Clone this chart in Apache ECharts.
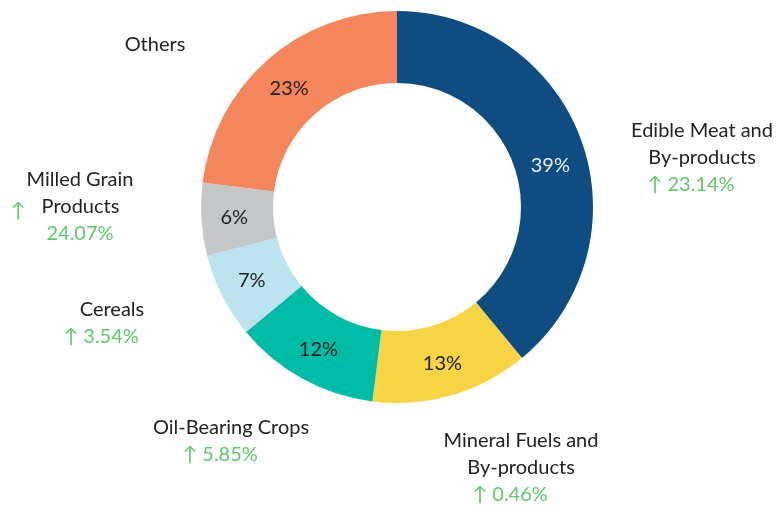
<!DOCTYPE html>
<html>
<head>
<meta charset="utf-8">
<script src="https://cdn.jsdelivr.net/npm/echarts@6/dist/echarts.min.js"></script>
<style>html,body{margin:0;padding:0;background:#fff}#c{width:778px;height:507px}</style>
</head>
<body>
<div id="c"></div>
<script>
const categories = ['Edible Meat and\nBy-products', 'Mineral Fuels and\nBy-products', 'Oil-Bearing Crops', 'Cereals', 'Milled Grain Products', 'Others'];
const shares = [39, 13, 12, 7, 6, 23];
const growth = ['23.14%', '0.46%', '5.85%', '3.54%', '24.07%', null];

const colors = ['#0e4c82', '#f7d443', '#00bca6', '#bee3f0', '#c4c8cb', '#f3865c'];
const labelPos = [[702, 158], [521, 468], [231, 441], [112, 323], [80, 207], [155, 45]];
const FONT = 'Lato';
const FS = 20;

const chart = echarts.init(document.getElementById('c'));
const data = categories.map((c, i) => ({
  name: c, value: shares[i], itemStyle: { color: colors[i] },
  label: i === 0 ? { color: '#e9eef5' } : undefined
}));

function outerLabel(p) {
  const i = p.dataIndex;
  if (i === 4) {
    return '{n|Milled Grain}\n{a|↑}{gap|}{n|Products}{sp2|}\n{g|' + growth[i] + '}';
  }
  const lines = p.name.split('\n').map(s => '{n|' + s + '}');
  if (growth[i]) lines.push('{g|↑ ' + growth[i] + '}{sp|}');
  return lines.join('\n');
}

chart.setOption({
  animation: false,
  series: [
    {
      type: 'pie',
      center: [397, 207],
      radius: [124, 196],
      startAngle: 90,
      clockwise: true,
      data: data,
      label: {
        show: true,
        position: 'inside',
        formatter: '{c}%',
        fontFamily: FONT,
        fontSize: FS,
        color: '#1e1e1e'
      },
      labelLayout: function (p) { return p.dataIndex === 0 ? { dy: 14 } : (p.dataIndex === 5 ? { dy: 4 } : {}); },
      itemStyle: { borderWidth: 0 },
      emphasis: { disabled: true }
    },
    {
      type: 'pie',
      center: [397, 207],
      radius: [124, 196],
      startAngle: 90,
      silent: true,
      data: data.map(d => ({ name: d.name, value: d.value, itemStyle: { color: 'rgba(0,0,0,0)' } })),
      labelLine: { show: false },
      emphasis: { disabled: true },
      label: {
        show: true,
        position: 'outside',
        overflow: 'none',
        bleedMargin: 0,
        formatter: outerLabel,
        fontFamily: FONT,
        lineHeight: 27,
        rich: {
          n: { fontFamily: FONT, fontSize: FS, color: '#222222', lineHeight: 27 },
          g: { fontFamily: FONT, fontSize: FS, color: '#5cc96a', lineHeight: 27 },
          a: { fontFamily: FONT, fontSize: FS, color: '#5cc96a', lineHeight: 27, padding: [8, 0, 0, 0] },
          sp: { width: 22 },
          gap: { width: 16 },
          sp2: { width: 30 }
        }
      },
      labelLayout: function (p) {
        const pos = labelPos[p.dataIndex];
        return { x: pos[0], y: pos[1], align: 'center', verticalAlign: 'middle', hideOverlap: false };
      }
    }
  ]
});
</script>
</body>
</html>
